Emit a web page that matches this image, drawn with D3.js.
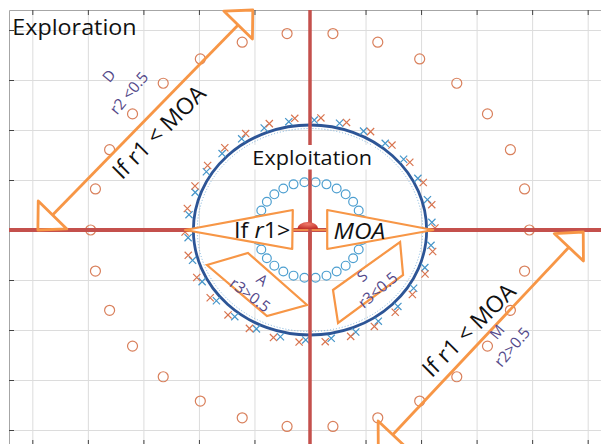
<!DOCTYPE html>
<html>
<head>
<meta charset="utf-8">
<script src="https://cdn.jsdelivr.net/npm/d3@7"></script>
<style>
  body { margin: 0; background: #fff; }
  svg { display: block; font-family: 'Open Sans', 'Noto Sans', sans-serif; }
</style>
</head>
<body>
<svg id="chart" width="601" height="444"></svg>
<script>
// axis ticks (grid every unit)
let xTicks = [-5, -4, -3, -2, -1, 0, 1, 2, 3, 4, 5]
let yTicks = [-4, -3, -2, -1, 0, 1, 2, 3, 4]

// exploration agents: 'o' ring, radius 4
let outerR = 3.95
let outerAngles = [0, 12, 24, 36, 48, 60, 72, 84, 96, 108, 120, 132, 144, 156, 168,
                   180, 192, 204, 216, 228, 240, 252, 264, 276, 288, 300, 312, 324, 336, 348]

// exploitation agents: two 'x' rings just outside the solution circle
let blueXR = 2.2
let blueXAngles = [4, 16, 28, 40, 52, 64, 76, 88, 100, 112, 124, 136, 148, 160, 172,
                   184, 196, 208, 220, 232, 244, 256, 268, 280, 292, 304, 316, 328, 340, 352]
let orangeXR = 2.25
let orangeXAngles = [1, 13, 25, 37, 49, 61, 73, 85, 97, 109, 121, 133, 145, 157, 169,
                     181, 193, 205, 217, 229, 241, 253, 265, 277, 289, 301, 313, 325, 337, 349]

// inner 'o' ring
let innerR = 0.96
let innerAngles = [0, 12, 24, 36, 48, 60, 72, 84, 96, 108, 120, 132, 144, 156, 168,
                   180, 192, 204, 216, 228, 240, 252, 264, 276, 288, 300, 312, 324, 336, 348]

// solution circle + dotted one
let solutionR = 2.1
let dottedR = 2.03

// annotation shapes (axis units)
let arrowTails = [[-4.90, 0.0], [1.23, -4.40]]
let arrowTips  = [[-1.03, 4.40], [4.92, -0.04]]
let triangles = [
  [[-2.25, 0], [-0.31, 0.40], [-0.32, -0.38]],
  [[2.22, 0], [0.31, 0.40], [0.31, -0.38]]
]
let boxes = [
  [[-1.856, -0.70], [-1.117, -0.46], [-0.054, -1.50], [-0.775, -1.72]],
  [[0.414, -1.20], [1.622, -0.24], [1.676, -0.90], [0.505, -1.86]]
]

// labels on the arrows
let arrowLabels = ['If r1 < MOA', 'If r1 < MOA']
let arrowLabelPos = [[-2.72, 1.96], [2.86, -2.0]]
let opLetters = ['D', 'M', 'A', 'S']
let opLetterPos = [[-3.62, 3.08], [3.37, -2.04], [-0.86, -1.0], [0.94, -0.92]]
let opRules = ['r2 <0.5', 'r2>0.5', 'r3>0.5', 'r3<0.5']
let opRulePos = [[-3.26, 2.74], [3.64, -2.34], [-1.08, -1.30], [1.22, -1.20]]
let opAngles = [-50, -50, 37, -40]

const W = 601, H = 444
let x = d3.scaleLinear().domain([-5.42, 5.42]).range([9, 611])
let y = d3.scaleLinear().domain([-4.5, 4.4]).range([455, 10])
let stretch = 1.11   // the figure is a little wider than tall

let orange = '#f79646'
let svg = d3.select('#chart')

// grid
svg.append('g')
  .attr('transform', `translate(0,${y(-4.5)})`)
  .call(d3.axisBottom(x).tickValues(xTicks).tickSize(-(y(-4.5) - y(4.4))).tickFormat(''))
  .call(g => g.select('.domain').remove())
  .selectAll('line').attr('stroke', '#dcdcdc')
svg.append('g')
  .attr('transform', `translate(${x(-5.42)},0)`)
  .call(d3.axisLeft(y).tickValues(yTicks).tickSize(-(x(5.42) - x(-5.42))).tickFormat(''))
  .call(g => g.select('.domain').remove())
  .selectAll('line').attr('stroke', '#dcdcdc')

// frame + inward ticks
let frame = (axis, tr) => svg.append('g').attr('transform', tr).call(axis)
  .call(g => g.select('.domain').attr('stroke', '#a6a6a6'))
  .call(g => g.selectAll('.tick line').attr('stroke', '#444'))
frame(d3.axisTop(x).tickValues(xTicks).tickSize(-5).tickSizeOuter(0).tickFormat(''), `translate(0,${y(4.4)})`)
frame(d3.axisBottom(x).tickValues(xTicks).tickSize(-5).tickSizeOuter(0).tickFormat(''), `translate(0,${y(-4.3)})`)
frame(d3.axisLeft(y).tickValues(yTicks).tickSize(-5).tickSizeOuter(0).tickFormat(''), `translate(${x(-5.42)},0)`)

let rad = a => a * Math.PI / 180
let polar = (r, a) => [x(r * Math.cos(rad(a))), y(r * Math.sin(rad(a)))]

// outer ring of exploration agents
svg.append('g').selectAll('circle').data(outerAngles).enter()
  .append('circle')
  .attr('cx', d => polar(outerR, d)[0]).attr('cy', d => polar(outerR, d)[1])
  .attr('r', 5).attr('fill', 'none').attr('stroke', '#d9805c').attr('stroke-width', 1.2)

// inner ring
svg.append('g').selectAll('circle').data(innerAngles).enter()
  .append('circle')
  .attr('cx', d => polar(innerR, d)[0]).attr('cy', d => polar(innerR, d)[1])
  .attr('r', 4.4).attr('fill', 'none').attr('stroke', '#4d9fd0').attr('stroke-width', 1.2)

// solution circle
svg.append('ellipse')
  .attr('cx', x(0)).attr('cy', y(0))
  .attr('rx', x(dottedR) - x(0)).attr('ry', y(0) - y(dottedR))
  .attr('fill', 'none').attr('stroke', '#7bb2dc').attr('stroke-width', 1).attr('stroke-dasharray', '1,2')
svg.append('ellipse')
  .attr('cx', x(0)).attr('cy', y(0))
  .attr('rx', x(solutionR) - x(0)).attr('ry', y(0) - y(solutionR))
  .attr('fill', 'none').attr('stroke', '#2d5596').attr('stroke-width', 2.8)

// x markers
let cross = (ang, r, col) => svg.append('g').selectAll('path').data(ang).enter()
  .append('path')
  .attr('transform', d => `translate(${polar(r, d)})`)
  .attr('d', 'M-3.6,-3.6L3.6,3.6M-3.6,3.6L3.6,-3.6')
  .attr('stroke', col).attr('stroke-width', 1.2)
cross(blueXAngles, blueXR, '#4595c9')
cross(orangeXAngles, orangeXR, '#d8744f')

// red axes
svg.append('line').attr('x1', x(-5.42)).attr('x2', W).attr('y1', y(0)).attr('y2', y(0))
  .attr('stroke', '#c4504c').attr('stroke-width', 4)
svg.append('line').attr('x1', x(0)).attr('x2', x(0)).attr('y1', y(4.4)).attr('y2', H)
  .attr('stroke', '#c4504c').attr('stroke-width', 3.5)

// triangles (white filled, hide the axis)
svg.append('g').selectAll('path').data(triangles).enter()
  .append('path')
  .attr('d', d => 'M' + d.map(p => [x(p[0]), y(p[1])]).join('L') + 'Z')
  .attr('fill', '#fff').attr('stroke', orange).attr('stroke-width', 2.2).attr('stroke-linejoin', 'round')
svg.append('line')
  .attr('x1', x(triangles[0][1][0])).attr('x2', x(triangles[1][1][0]))
  .attr('y1', y(0)).attr('y2', y(0))
  .attr('stroke', '#ee8a4a').attr('stroke-width', 2)
svg.append('line').attr('x1', x(0)).attr('x2', x(0)).attr('y1', y(0.4)).attr('y2', y(-0.4))
  .attr('stroke', '#c4504c').attr('stroke-width', 3.5)

// red dome at the origin
let grad = svg.append('defs').append('radialGradient').attr('id', 'dome')
  .attr('cx', '50%').attr('cy', '30%').attr('r', '70%')
grad.append('stop').attr('offset', '0%').attr('stop-color', '#f07a6a')
grad.append('stop').attr('offset', '100%').attr('stop-color', '#c0302a')
svg.append('path')
  .attr('transform', `translate(${x(-0.04)},${y(0.02)})`)
  .attr('d', 'M-10.5,0A10.5,7 0 0 1 10.5,0Z')
  .attr('fill', 'url(#dome)')

// operator boxes
svg.append('g').selectAll('path').data(boxes).enter()
  .append('path')
  .attr('d', d => 'M' + d.map(p => [x(p[0]), y(p[1])]).join('L') + 'Z')
  .attr('fill', '#fff').attr('stroke', orange).attr('stroke-width', 2.2)

// "Exploitation" with white backing
let exTxt = svg.append('text')
  .attr('transform', `translate(${x(0.04)},${y(1.44)}) scale(${stretch},1)`)
  .attr('dy', '0.35em')
  .attr('text-anchor', 'middle').attr('font-size', 19.5).attr('fill', '#111')
  .text('Exploitation')
let bb = exTxt.node().getBBox()
svg.insert('rect', () => exTxt.node())
  .attr('x', x(0.04) + bb.x * stretch - 2).attr('y', y(1.44) + bb.y + 1)
  .attr('width', bb.width * stretch + 4).attr('height', bb.height - 2)
  .attr('fill', '#fff')

// labels in the triangles
let t1 = svg.append('text')
  .attr('transform', `translate(${x(-0.86)},${y(-0.02)}) scale(${stretch},1)`)
  .attr('dy', '0.35em')
  .attr('text-anchor', 'middle').attr('font-size', 21).attr('fill', '#111')
t1.append('tspan').text('If ')
t1.append('tspan').attr('font-style', 'italic').text('r')
t1.append('tspan').text('1>')
svg.append('text')
  .attr('transform', `translate(${x(0.89)},${y(-0.02)}) scale(${stretch},1)`)
  .attr('dy', '0.35em')
  .attr('text-anchor', 'middle').attr('font-size', 22).attr('font-style', 'italic').attr('fill', '#111')
  .text('MOA')

// big arrows
let arrowHead = (tip, back) => {
  let dx = tip[0] - back[0], dy = tip[1] - back[1], l = Math.hypot(dx, dy)
  let ux = dx / l, uy = dy / l
  let bx = tip[0] - ux * 21, by = tip[1] - uy * 21
  return { base: [bx, by], pts: [tip, [bx - uy * 20, by + ux * 20], [bx + uy * 20, by - ux * 20]] }
}
arrowTails.forEach((t, i) => {
  let a = [x(t[0]), y(t[1])], b = [x(arrowTips[i][0]), y(arrowTips[i][1])]
  let h1 = arrowHead(a, b), h2 = arrowHead(b, a)
  let g = svg.append('g').attr('fill', 'none').attr('stroke', orange).attr('stroke-width', 2.8)
    .attr('stroke-linejoin', 'round')
  g.append('line').attr('x1', h1.base[0]).attr('y1', h1.base[1]).attr('x2', h2.base[0]).attr('y2', h2.base[1])
  g.append('path').attr('d', 'M' + h1.pts.join('L') + 'Z')
  g.append('path').attr('d', 'M' + h2.pts.join('L') + 'Z')
})

arrowLabels.forEach((s, i) => {
  let p = arrowLabelPos[i]
  svg.append('text')
    .attr('transform', `translate(${x(p[0])},${y(p[1])}) rotate(-45)`)
    .attr('dy', '0.35em').attr('text-anchor', 'middle').attr('font-size', 23).attr('fill', '#111')
    .text(s)
})

// operator letters + rules
opLetters.forEach((s, i) => {
  let p = opLetterPos[i], q = opRulePos[i]
  svg.append('text')
    .attr('transform', `translate(${x(p[0])},${y(p[1])}) rotate(${opAngles[i]})`)
    .attr('dy', '0.35em').attr('text-anchor', 'middle').attr('font-size', 15).attr('fill', '#54498a')
    .text(s)
  svg.append('text')
    .attr('transform', `translate(${x(q[0])},${y(q[1])}) rotate(${opAngles[i]})`)
    .attr('dy', '0.35em').attr('text-anchor', 'middle').attr('font-size', 15.5).attr('fill', '#54498a')
    .text(opRules[i])
})

svg.append('text')
  .attr('transform', `translate(${x(-5.36)},${y(3.9)}) scale(${stretch},1)`)
  .attr('font-size', 21).attr('fill', '#111').text('Exploration')
</script>
</body>
</html>
